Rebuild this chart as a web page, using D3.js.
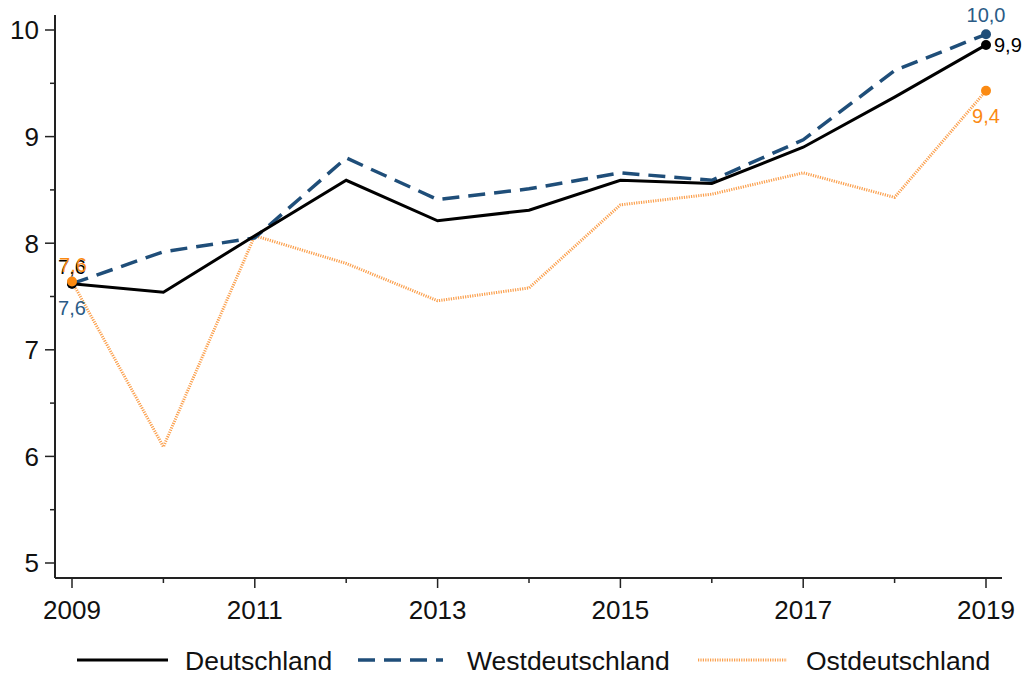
<!DOCTYPE html>
<html><head><meta charset="utf-8">
<script src="https://cdn.jsdelivr.net/npm/d3@7"></script>
<style>
body{margin:0;background:#fff;}
svg{display:block;font-family:"Liberation Sans",Arial,sans-serif;}
</style></head>
<body><svg id="c" width="1032" height="675"></svg>
<script>
const years = [2009,2010,2011,2012,2013,2014,2015,2016,2017,2018,2019];
const deutschland = [7.62,7.54,8.07,8.59,8.21,8.31,8.59,8.56,8.90,9.37,9.86];
const westdeutschland = [7.62,7.92,8.05,8.80,8.41,8.51,8.66,8.59,8.97,9.62,9.96];
const ostdeutschland = [7.64,6.09,8.07,7.81,7.46,7.58,8.36,8.46,8.66,8.43,9.43];
const seriesNames = ["Deutschland","Westdeutschland","Ostdeutschland"];
const yTicks = [5,6,7,8,9,10];
const xTicks = [2009,2011,2013,2015,2017,2019];

const svg = d3.select("#c");
const x = d3.scaleLinear().domain([2009,2019]).range([72,986]);
const y = d3.scaleLinear().domain([5,10]).range([563,30]);
const axX0 = 55, axY0 = 578;

const series = [
  {name:seriesNames[0], vals:deutschland, color:"#000000", width:3, dash:null, lab:"#000"},
  {name:seriesNames[1], vals:westdeutschland, color:"#1f4e79", width:3.5, dash:"17,9", lab:"#2b5b86"},
  {name:seriesNames[2], vals:ostdeutschland, color:"#fba04e", width:3, dash:"1.2,1.2", lab:"#fb8a12"}
];

// axes lines
svg.append("line").attr("x1",axX0).attr("x2",axX0).attr("y1",15).attr("y2",axY0).attr("stroke","#222").attr("stroke-width",2);
svg.append("line").attr("x1",axX0).attr("x2",1002).attr("y1",axY0).attr("y2",axY0).attr("stroke","#222").attr("stroke-width",2);

// y ticks
const yMinor = d3.range(5.5,10,1);
svg.selectAll(".ytm").data(yTicks).enter().append("line")
  .attr("x1",axX0-10).attr("x2",axX0).attr("y1",d=>y(d)).attr("y2",d=>y(d)).attr("stroke","#222").attr("stroke-width",1.5);
svg.selectAll(".ytn").data(yMinor).enter().append("line")
  .attr("x1",axX0-5).attr("x2",axX0).attr("y1",d=>y(d)).attr("y2",d=>y(d)).attr("stroke","#222").attr("stroke-width",1.5);
svg.selectAll(".ytl").data(yTicks).enter().append("text")
  .attr("x",axX0-16).attr("y",d=>y(d)).attr("dy","0.36em").attr("text-anchor","end")
  .attr("font-size",26).attr("fill","#111").text(d=>d);

// x ticks
const xMinor = years.filter(v=>!xTicks.includes(v));
svg.selectAll(".xtm").data(xTicks).enter().append("line")
  .attr("x1",d=>x(d)).attr("x2",d=>x(d)).attr("y1",axY0).attr("y2",axY0+10).attr("stroke","#222").attr("stroke-width",1.5);
svg.selectAll(".xtn").data(xMinor).enter().append("line")
  .attr("x1",d=>x(d)).attr("x2",d=>x(d)).attr("y1",axY0).attr("y2",axY0+5).attr("stroke","#222").attr("stroke-width",1.5);
svg.selectAll(".xtl").data(xTicks).enter().append("text")
  .attr("x",d=>x(d)).attr("y",619).attr("text-anchor","middle")
  .attr("font-size",26).attr("fill","#111").text(d=>d);

// lines
const line = d3.line().x((d,i)=>x(years[i])).y(d=>y(d));
[series[2],series[1],series[0]].forEach(s=>{
  svg.append("path").attr("d",line(s.vals)).attr("fill","none")
    .attr("stroke",s.color).attr("stroke-width",s.width)
    .attr("stroke-dasharray",s.dash).attr("stroke-linejoin","miter");
});

// end markers
const fmt = v=>d3.format(".1f")(v).replace(".",",");
const last = years.length-1;
const markerColor = ["#000","#1f4e79","#fb8a12"];
[1,0,2].forEach(k=>{
  const s=series[k];
  [0,last].forEach(i=>{
    svg.append("circle").attr("cx",x(years[i])).attr("cy",y(s.vals[i])).attr("r",5).attr("fill",markerColor[k]);
  });
});

// labels
function lab(k,i,dx,dy,anchor){
  const s=series[k];
  svg.append("text").attr("x",x(years[i])+dx).attr("y",y(s.vals[i])+dy)
    .attr("text-anchor",anchor).attr("font-size",20).attr("fill",s.lab).text(fmt(s.vals[i]));
}
lab(0,0,0,-10,"middle");
lab(2,0,1,-10,"middle");
lab(1,0,0,31,"middle");
lab(1,last,0,-12,"middle");
lab(0,last,8,7,"start");
lab(2,last,0,32,"middle");

// legend
const leg = [
  {s:series[0], x1:77, x2:168, tx:185},
  {s:series[1], x1:358, x2:443, tx:467},
  {s:series[2], x1:698, x2:787, tx:806}
];
const ly = 660;
leg.forEach(l=>{
  svg.append("line").attr("x1",l.x1).attr("x2",l.x2).attr("y1",ly).attr("y2",ly)
    .attr("stroke",l.s.color).attr("stroke-width",l.s.width).attr("stroke-dasharray",l.s.dash);
  svg.append("text").attr("x",l.tx).attr("y",ly).attr("dy","0.36em").attr("font-size",26.5).attr("fill","#111").text(l.s.name);
});
</script></body></html>
